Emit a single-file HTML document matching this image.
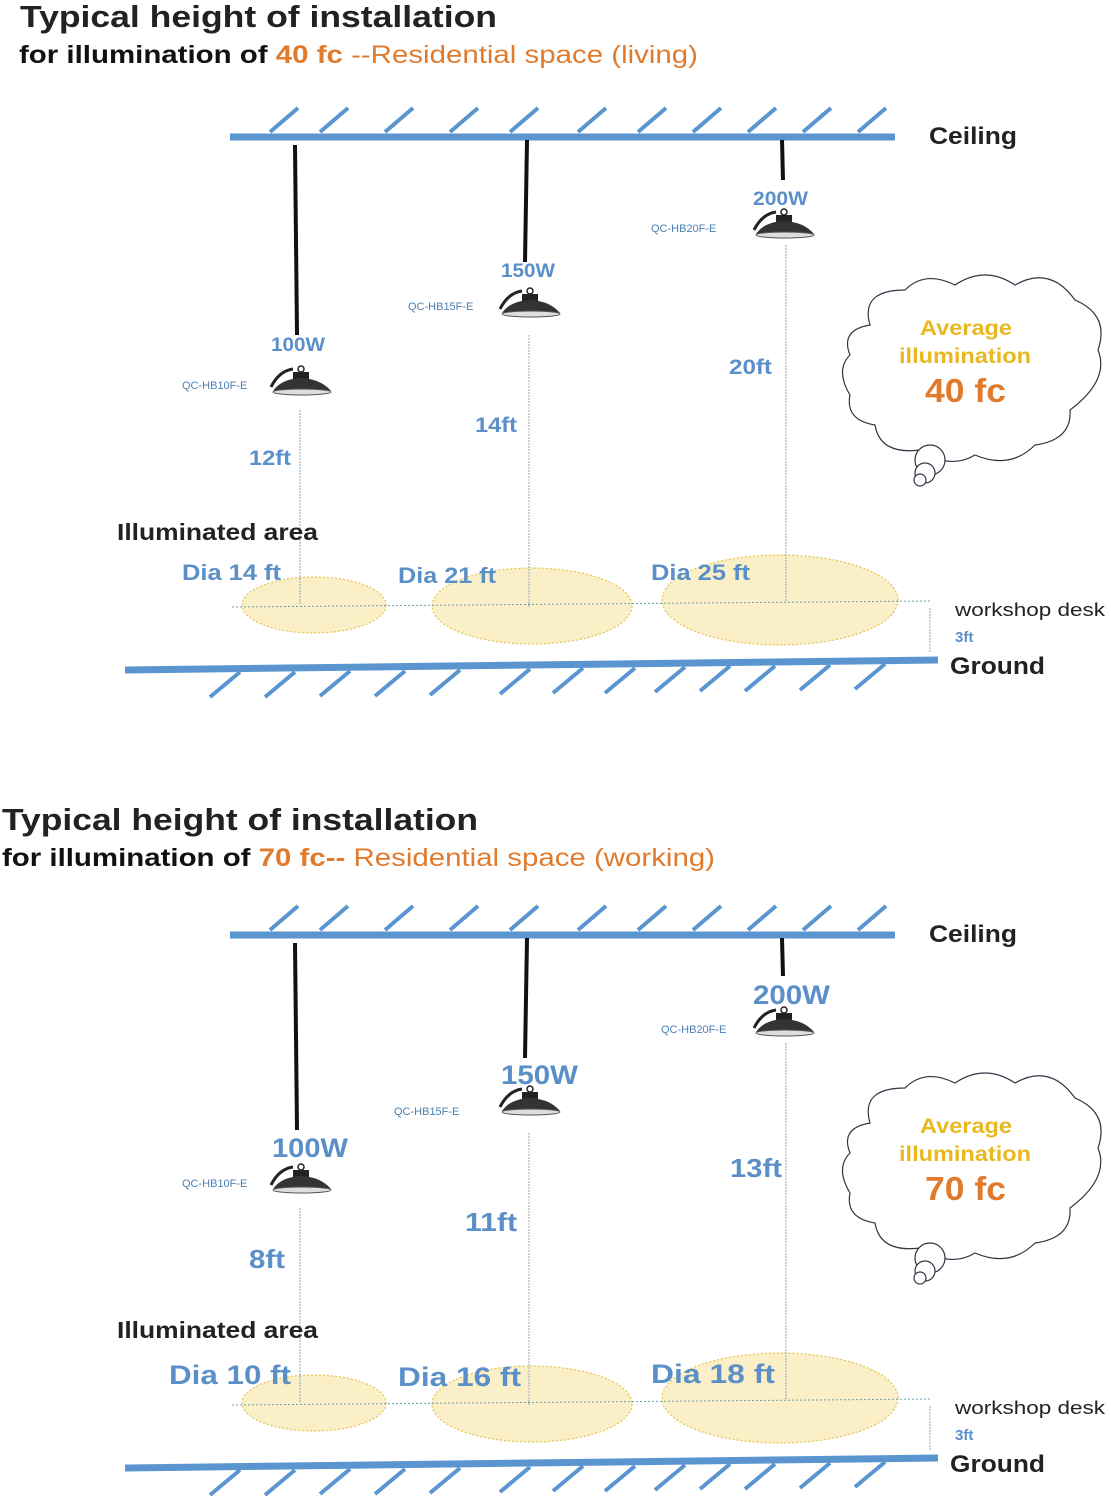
<!DOCTYPE html>
<html><head><meta charset="utf-8"><style>
html,body{margin:0;padding:0;background:#fff}
svg{display:block}
text{font-family:"Liberation Sans",Arial,sans-serif}
.b{fill:#5a8fc8;font-weight:bold}
.m{fill:#4a7fb5;font-size:11px}
.k{fill:#222;font-weight:bold}
</style></head><body>
<svg width="1111" height="1500" viewBox="0 0 1111 1500" xmlns="http://www.w3.org/2000/svg">
<defs>
<g id="lamp">
 <path d="M-30,4 Q-22,-12 -8,-14" stroke="#222" stroke-width="3" fill="none"/>
 <circle cx="0" cy="-14" r="3" stroke="#222" stroke-width="1.5" fill="none"/>
 <rect x="-8" y="-11" width="16" height="7" fill="#222"/>
 <path d="M-28,8 Q-20,-4 0,-5 Q20,-4 30,8 Z" fill="#333"/>
 <ellipse cx="1" cy="9" rx="29" ry="3" fill="#ddd" stroke="#555"/>
</g>
<g id="cloud" fill="#fff" stroke="#334" stroke-width="1.2">
 <path d="M870,325 Q860,290 905,290 Q925,270 955,285 Q985,265 1015,285 Q1050,265 1075,300 Q1110,315 1098,350 Q1110,380 1070,410 Q1072,440 1035,445 Q1010,470 975,455 Q950,470 920,450 Q880,455 875,425 Q845,420 850,395 Q835,370 850,355 Q840,330 870,325 Z"/>
 <circle cx="930" cy="460" r="15"/><circle cx="925" cy="473" r="10"/><circle cx="920" cy="480" r="6"/>
</g>
<g id="scene">
 <line x1="230" y1="137" x2="895" y2="137" stroke="#5b95d0" stroke-width="7"/>
 <g stroke="#5b95d0" stroke-width="4">
  <line x1="270" y1="132" x2="298" y2="108"/><line x1="320" y1="132" x2="348" y2="108"/><line x1="385" y1="132" x2="413" y2="108"/><line x1="450" y1="132" x2="478" y2="108"/><line x1="510" y1="132" x2="538" y2="108"/><line x1="578" y1="132" x2="606" y2="108"/><line x1="638" y1="132" x2="666" y2="108"/><line x1="693" y1="132" x2="721" y2="108"/><line x1="748" y1="132" x2="776" y2="108"/><line x1="803" y1="132" x2="831" y2="108"/><line x1="858" y1="132" x2="886" y2="108"/>
 </g>
 <line x1="125" y1="670" x2="938" y2="660" stroke="#5b95d0" stroke-width="7"/>
 <g stroke="#5b95d0" stroke-width="4">
  <line x1="210" y1="697" x2="240" y2="672"/><line x1="265" y1="697" x2="295" y2="672"/><line x1="320" y1="696" x2="350" y2="671"/><line x1="375" y1="696" x2="405" y2="671"/><line x1="430" y1="695" x2="460" y2="670"/><line x1="500" y1="694" x2="530" y2="669"/><line x1="553" y1="693" x2="583" y2="668"/><line x1="605" y1="693" x2="635" y2="668"/><line x1="655" y1="692" x2="685" y2="667"/><line x1="700" y1="691" x2="730" y2="666"/><line x1="745" y1="691" x2="775" y2="666"/><line x1="800" y1="690" x2="830" y2="665"/><line x1="855" y1="689" x2="885" y2="664"/>
 </g>
 <g fill="#fbefc8" stroke="#e3c450" stroke-width="1.2" stroke-dasharray="2 2">
  <ellipse cx="314" cy="605" rx="72" ry="28"/>
  <ellipse cx="532" cy="606" rx="100" ry="38"/>
  <ellipse cx="780" cy="600" rx="118" ry="45"/>
 </g>
 <line x1="232" y1="607" x2="930" y2="601" stroke="#6a9fb0" stroke-width="1" stroke-dasharray="2 2"/>
 <g stroke="#8ab" stroke-width="1" stroke-dasharray="2 1">
  <line x1="300" y1="410" x2="300" y2="605"/><line x1="529" y1="335" x2="529" y2="608"/><line x1="786" y1="245" x2="786" y2="602"/>
  <line x1="930" y1="608" x2="930" y2="652"/>
 </g>
 <use href="#lamp" x="301" y="383"/><use href="#lamp" x="530" y="305"/><use href="#lamp" x="784" y="226"/>
 <use href="#cloud"/>
 <text x="117" y="540" class="k" font-size="23" textLength="201" lengthAdjust="spacingAndGlyphs">Illuminated area</text>
 <text x="955" y="616" font-size="18" fill="#222" textLength="150" lengthAdjust="spacingAndGlyphs">workshop desk</text>
 <text x="955" y="642" font-size="15" class="b">3ft</text>
 <text x="950" y="674" class="k" font-size="24" textLength="95" lengthAdjust="spacingAndGlyphs">Ground</text>
 <text x="929" y="144" class="k" font-size="24" textLength="88" lengthAdjust="spacingAndGlyphs">Ceiling</text>
</g>
</defs>

<use href="#scene"/>
<use href="#scene" y="798"/>

<g stroke="#111" stroke-width="4">
 <line x1="295" y1="145" x2="297" y2="335"/><line x1="527" y1="140" x2="525" y2="262"/><line x1="782" y1="140" x2="783" y2="180"/>
 <line x1="295" y1="943" x2="297" y2="1130"/><line x1="527" y1="938" x2="525" y2="1058"/><line x1="782" y1="938" x2="783" y2="976"/>
</g>

<g font-size="1">
<text x="20" y="27" class="k" font-size="31" fill="#111" textLength="477" lengthAdjust="spacingAndGlyphs">Typical height of installation</text>
<text x="19" y="63" font-size="25" fill="#111" font-weight="bold" textLength="679" lengthAdjust="spacingAndGlyphs">for illumination of <tspan fill="#e07b2e">40 fc</tspan><tspan fill="#e07b2e" font-weight="normal"> --Residential space (living)</tspan></text>
<text x="271" y="351" class="b" font-size="19" textLength="54" lengthAdjust="spacingAndGlyphs">100W</text>
<text x="182" y="389" class="m">QC-HB10F-E</text>
<text x="501" y="277" class="b" font-size="19" textLength="54" lengthAdjust="spacingAndGlyphs">150W</text>
<text x="408" y="310" class="m">QC-HB15F-E</text>
<text x="753" y="205" class="b" font-size="19" textLength="55" lengthAdjust="spacingAndGlyphs">200W</text>
<text x="651" y="232" class="m">QC-HB20F-E</text>
<text x="249" y="465" class="b" font-size="21" textLength="42" lengthAdjust="spacingAndGlyphs">12ft</text>
<text x="475" y="432" class="b" font-size="21" textLength="42" lengthAdjust="spacingAndGlyphs">14ft</text>
<text x="729" y="374" class="b" font-size="21" textLength="43" lengthAdjust="spacingAndGlyphs">20ft</text>
<text x="182" y="580" class="b" font-size="22" textLength="99" lengthAdjust="spacingAndGlyphs">Dia  14 ft</text>
<text x="398" y="583" class="b" font-size="22" textLength="98" lengthAdjust="spacingAndGlyphs">Dia  21 ft</text>
<text x="651" y="580" class="b" font-size="22" textLength="99" lengthAdjust="spacingAndGlyphs">Dia  25 ft</text>
<text x="920" y="335" font-size="21" font-weight="bold" fill="#e8b820" textLength="92" lengthAdjust="spacingAndGlyphs">Average</text>
<text x="899" y="363" font-size="21" font-weight="bold" fill="#e8b820" textLength="132" lengthAdjust="spacingAndGlyphs">illumination</text>
<text x="925" y="402" font-size="33" font-weight="bold" fill="#e07b2e" textLength="81" lengthAdjust="spacingAndGlyphs">40 fc</text>

<text x="2" y="830" class="k" font-size="31" fill="#111" textLength="476" lengthAdjust="spacingAndGlyphs">Typical height of installation</text>
<text x="2" y="866" font-size="25" fill="#111" font-weight="bold" textLength="713" lengthAdjust="spacingAndGlyphs">for illumination of <tspan fill="#e07b2e">70 fc--</tspan><tspan fill="#e07b2e" font-weight="normal"> Residential space (working)</tspan></text>
<text x="272" y="1157" class="b" font-size="27" textLength="76" lengthAdjust="spacingAndGlyphs">100W</text>
<text x="182" y="1187" class="m">QC-HB10F-E</text>
<text x="501" y="1084" class="b" font-size="27" textLength="77" lengthAdjust="spacingAndGlyphs">150W</text>
<text x="394" y="1115" class="m">QC-HB15F-E</text>
<text x="753" y="1004" class="b" font-size="27" textLength="77" lengthAdjust="spacingAndGlyphs">200W</text>
<text x="661" y="1033" class="m">QC-HB20F-E</text>
<text x="249" y="1268" class="b" font-size="26" textLength="36" lengthAdjust="spacingAndGlyphs">8ft</text>
<text x="465" y="1231" class="b" font-size="26" textLength="52" lengthAdjust="spacingAndGlyphs">11ft</text>
<text x="730" y="1177" class="b" font-size="26" textLength="52" lengthAdjust="spacingAndGlyphs">13ft</text>
<text x="169" y="1384" class="b" font-size="27" textLength="122" lengthAdjust="spacingAndGlyphs">Dia  10 ft</text>
<text x="398" y="1386" class="b" font-size="27" textLength="123" lengthAdjust="spacingAndGlyphs">Dia  16 ft</text>
<text x="651" y="1383" class="b" font-size="27" textLength="124" lengthAdjust="spacingAndGlyphs">Dia  18 ft</text>
<text x="920" y="1133" font-size="21" font-weight="bold" fill="#e8b820" textLength="92" lengthAdjust="spacingAndGlyphs">Average</text>
<text x="899" y="1161" font-size="21" font-weight="bold" fill="#e8b820" textLength="132" lengthAdjust="spacingAndGlyphs">illumination</text>
<text x="925" y="1200" font-size="33" font-weight="bold" fill="#e07b2e" textLength="81" lengthAdjust="spacingAndGlyphs">70 fc</text>
</g>
</svg>
</body></html>
